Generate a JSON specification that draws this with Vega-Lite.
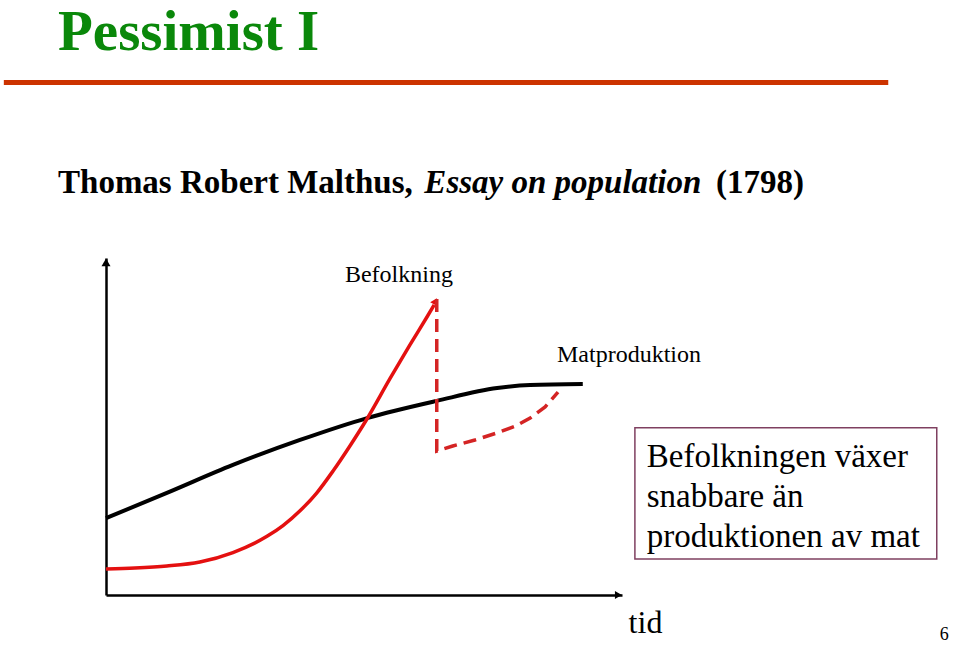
{
  "$schema": "https://vega.github.io/schema/vega-lite/v6.json",
  "width": 516,
  "height": 337,
  "autosize": {"type": "none"},
  "padding": {"left": 106, "top": 258, "right": 337, "bottom": 50},
  "background": "white",
  "config": {"view": {"stroke": null}, "font": "Liberation Serif"},
  "datasets": {
    "title": [{"t": -9.3, "v": 161.6, "text": "Pessimist I"}],
    "food": [
      {"t": 0, "v": 22.8}, {"t": 11.8, "v": 30.3}, {"t": 24.6, "v": 38.6},
      {"t": 37.6, "v": 46.0}, {"t": 50.6, "v": 52.5}, {"t": 64.1, "v": 57.6},
      {"t": 75.8, "v": 61.4}, {"t": 82.2, "v": 62.3}, {"t": 92.4, "v": 62.6}
    ],
    "pop": [
      {"t": 0, "v": 7.7}, {"t": 5.6, "v": 8.0}, {"t": 11.8, "v": 8.6},
      {"t": 18.2, "v": 9.8}, {"t": 24.6, "v": 12.6}, {"t": 31.2, "v": 17.4},
      {"t": 34.3, "v": 20.6}, {"t": 37.6, "v": 25.0}, {"t": 40.9, "v": 30.4},
      {"t": 44.0, "v": 36.8}, {"t": 47.3, "v": 44.3}, {"t": 50.6, "v": 52.3},
      {"t": 55.0, "v": 64.1}, {"t": 58.9, "v": 74.2}, {"t": 62.2, "v": 82.5},
      {"t": 63.6, "v": 86.1}
    ],
    "popHead": [{"t": 63.8, "v": 87.2}],
    "check": [
      {"i": 0, "t": 64.1, "v": 87.8}, {"i": 1, "t": 64.1, "v": 42.7},
      {"i": 2, "t": 67.2, "v": 44.2}, {"i": 3, "t": 71.5, "v": 46.0},
      {"i": 4, "t": 75.8, "v": 48.1}, {"i": 5, "t": 79.3, "v": 50.1},
      {"i": 6, "t": 82.2, "v": 52.5}, {"i": 7, "t": 85.1, "v": 55.8},
      {"i": 8, "t": 87.6, "v": 60.2}
    ],
    "yArrow": [{"t": 0, "v": 98.7}],
    "xArrow": [{"t": 99.3, "v": 0}],
    "banner": [{"t": -19.8, "t2": 151.6, "v": 152.1}],
    "heading": [
      {"t": -9.3, "v": 119.3, "text": "Thomas Robert Malthus,"},
      {"t": 118.2, "v": 119.3, "text": "(1798)"}
    ],
    "headingItalic": [{"t": 61.7, "v": 119.3, "text": "Essay on population"}],
    "labels": [
      {"t": 46.3, "v": 92.9, "text": "Befolkning"},
      {"t": 87.4, "v": 69.1, "text": "Matproduktion"}
    ],
    "box": [{"t": 102.5, "t2": 161.0, "v": 49.6, "v2": 10.7}],
    "boxText": [
      {"t": 104.8, "v": 38.0, "text": "Befolkningen växer"},
      {"t": 104.8, "v": 26.1, "text": "snabbare än"},
      {"t": 104.8, "v": 14.2, "text": "produktionen av mat"}
    ],
    "page": [{"t": 161.6, "v": -13.3, "text": "6"}]
  },
  "encoding": {
    "x": {
      "field": "t",
      "type": "quantitative",
      "scale": {"domain": [0, 100], "nice": false, "zero": false},
      "axis": {
        "domain": true, "domainColor": "black", "domainWidth": 2.5,
        "ticks": false, "labels": false, "grid": false,
        "title": "tid", "titleFont": "Liberation Serif", "titleFontSize": 32,
        "titleFontWeight": "normal", "titleColor": "black",
        "titleX": 539, "titleY": 37, "titleAlign": "center", "titleBaseline": "alphabetic"
      }
    },
    "y": {
      "field": "v",
      "type": "quantitative",
      "scale": {"domain": [0, 100], "nice": false, "zero": false},
      "axis": {
        "domain": true, "domainColor": "black", "domainWidth": 2.5,
        "ticks": false, "labels": false, "grid": false, "title": null
      }
    }
  },
  "layer": [
    {
      "data": {"name": "title"},
      "mark": {"type": "text", "align": "left", "baseline": "alphabetic", "font": "Liberation Serif", "fontSize": 57, "fontWeight": "bold", "color": "#0A880A", "clip": false},
      "encoding": {"text": {"field": "text"}}
    },
    {
      "data": {"name": "banner"},
      "mark": {"type": "rule", "color": "#CC3300", "strokeWidth": 5, "clip": false},
      "encoding": {"x2": {"field": "t2"}}
    },
    {
      "data": {"name": "food"},
      "mark": {"type": "line", "color": "black", "strokeWidth": 4, "interpolate": "monotone", "clip": false}
    },
    {
      "data": {"name": "pop"},
      "mark": {"type": "line", "color": "#E41010", "strokeWidth": 3.5, "interpolate": "monotone", "clip": false}
    },
    {
      "data": {"name": "popHead"},
      "mark": {"type": "point", "shape": "triangle-up", "filled": true, "color": "#E41010", "size": 60, "angle": 29, "opacity": 1, "clip": false}
    },
    {
      "data": {"name": "check"},
      "mark": {"type": "line", "color": "#D42424", "strokeWidth": 3.5, "strokeDash": [13, 7], "interpolate": "linear", "clip": false},
      "encoding": {"order": {"field": "i"}}
    },
    {
      "data": {"name": "yArrow"},
      "mark": {"type": "point", "shape": "triangle-up", "filled": true, "color": "black", "size": 81, "opacity": 1, "clip": false}
    },
    {
      "data": {"name": "xArrow"},
      "mark": {"type": "point", "shape": "triangle-right", "filled": true, "color": "black", "size": 64, "opacity": 1, "clip": false}
    },
    {
      "data": {"name": "heading"},
      "mark": {"type": "text", "align": "left", "baseline": "alphabetic", "font": "Liberation Serif", "fontSize": 33, "fontWeight": "bold", "color": "black", "clip": false},
      "encoding": {"text": {"field": "text"}}
    },
    {
      "data": {"name": "headingItalic"},
      "mark": {"type": "text", "align": "left", "baseline": "alphabetic", "font": "Liberation Serif", "fontSize": 33, "fontWeight": "bold", "fontStyle": "italic", "color": "black", "clip": false},
      "encoding": {"text": {"field": "text"}}
    },
    {
      "data": {"name": "labels"},
      "mark": {"type": "text", "align": "left", "baseline": "alphabetic", "font": "Liberation Serif", "fontSize": 24, "color": "black", "clip": false},
      "encoding": {"text": {"field": "text"}}
    },
    {
      "data": {"name": "box"},
      "mark": {"type": "rect", "fill": "white", "stroke": "#7F4060", "strokeWidth": 1.5, "clip": false},
      "encoding": {"x2": {"field": "t2"}, "y2": {"field": "v2"}}
    },
    {
      "data": {"name": "boxText"},
      "mark": {"type": "text", "align": "left", "baseline": "alphabetic", "font": "Liberation Serif", "fontSize": 33, "color": "black", "clip": false},
      "encoding": {"text": {"field": "text"}}
    },
    {
      "data": {"name": "page"},
      "mark": {"type": "text", "align": "left", "baseline": "alphabetic", "font": "Liberation Serif", "fontSize": 18, "color": "black", "clip": false},
      "encoding": {"text": {"field": "text"}}
    }
  ]
}
